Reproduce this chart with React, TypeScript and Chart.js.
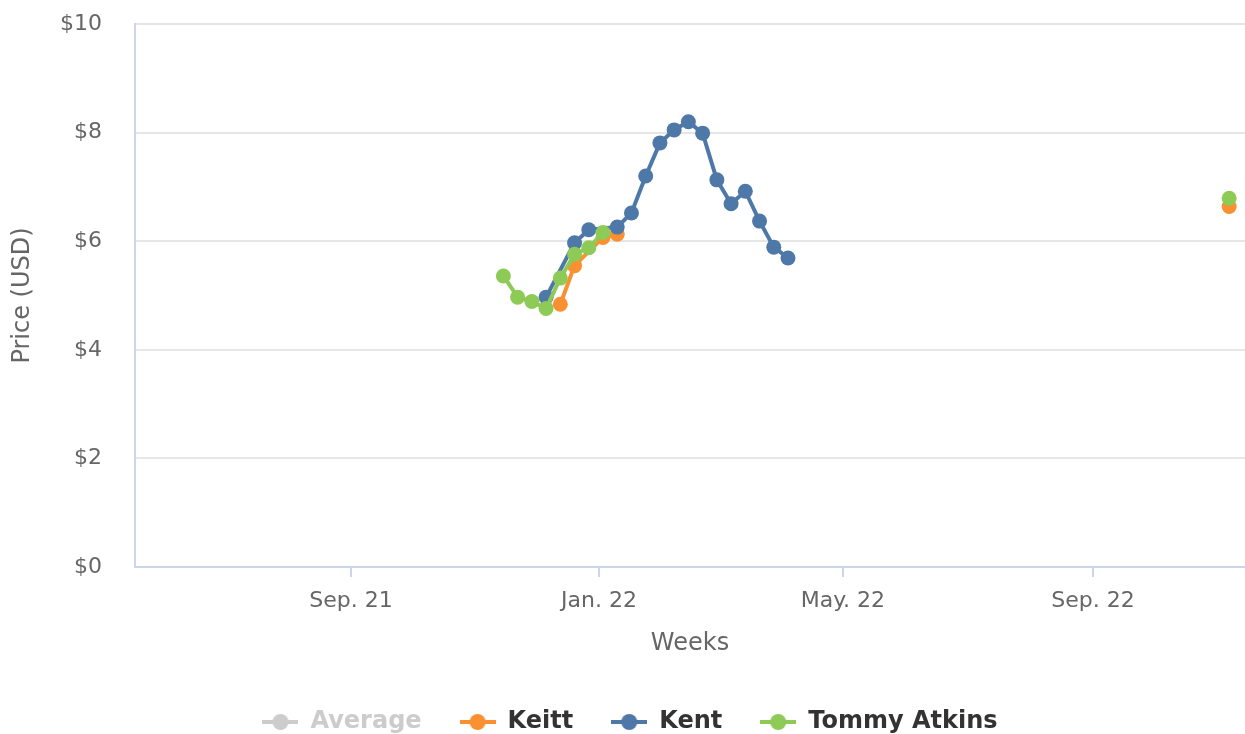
import React, { useEffect, useRef } from 'react';
import { Chart, registerables } from 'chart.js';

Chart.register(...registerables);

const FONT = "'DejaVu Sans', 'Open Sans', sans-serif";

const seriesNames = ['Average', 'Keitt', 'Kent', 'Tommy Atkins'];
const seriesColors = ['#cccccc', '#f99032', '#4e78a7', '#8dca56'];
const legendTextColors = ['#cccccc', '#333333', '#333333', '#333333'];

const averageWeeks: string[] = [];
const averagePrices: (number | null)[] = [];

const keittWeeks = ['2021-12-13', '2021-12-20', '2022-01-03', '2022-01-10', '2022-01-17', '2022-11-07'];
const keittPrices = [4.84, 5.55, 6.07, 6.13, null, 6.64];

const kentWeeks = [
  '2021-12-06', '2021-12-20', '2021-12-27', '2022-01-10', '2022-01-17', '2022-01-24',
  '2022-01-31', '2022-02-07', '2022-02-14', '2022-02-21', '2022-02-28', '2022-03-07',
  '2022-03-14', '2022-03-21', '2022-03-28', '2022-04-04',
];
const kentPrices = [4.97, 5.97, 6.21, 6.26, 6.52, 7.2, 7.81, 8.05, 8.2, 7.99, 7.13, 6.69, 6.92, 6.37, 5.89, 5.69];

const tommyWeeks = [
  '2021-11-15', '2021-11-22', '2021-11-29', '2021-12-06', '2021-12-13', '2021-12-20',
  '2021-12-27', '2022-01-03', '2022-01-10', '2022-11-07',
];
const tommyPrices = [5.36, 4.97, 4.89, 4.76, 5.32, 5.76, 5.88, 6.16, null, 6.79];

const monthTickDates = ['2021-09-01', '2022-01-01', '2022-05-01', '2022-09-01'];
const monthTickLabels = ['Sep. 21', 'Jan. 22', 'May. 22', 'Sep. 22'];
const xRangeDates = ['2021-05-17T19:00', '2022-11-14T19:00'];

const yTicks = [0, 2, 4, 6, 8, 10];

const EPOCH = Date.UTC(2022, 0, 1);
const dayOf = (s: string) =>
  (Date.parse(s.length > 10 ? s + ':00Z' : s + 'T00:00:00Z') - EPOCH) / 86400000;

const toPoints = (weeks: string[], prices: (number | null)[]) =>
  weeks.map((w, i) => ({ x: dayOf(w), y: prices[i] }));

function makeMarker(color: string): HTMLCanvasElement {
  const c = document.createElement('canvas');
  c.width = 36;
  c.height = 18;
  const ctx = c.getContext('2d')!;
  ctx.strokeStyle = color;
  ctx.lineWidth = 4;
  ctx.beginPath();
  ctx.moveTo(0, 9);
  ctx.lineTo(36, 9);
  ctx.stroke();
  ctx.fillStyle = color;
  ctx.beginPath();
  ctx.arc(18, 9, 8, 0, Math.PI * 2);
  ctx.fill();
  return c;
}

export default function App() {
  const ref = useRef<HTMLCanvasElement | null>(null);

  useEffect(() => {
    if (!ref.current) return;
    Chart.defaults.font.family = FONT;
    const markers = seriesColors.map(makeMarker);
    const seriesData = [
      toPoints(averageWeeks, averagePrices),
      toPoints(keittWeeks, keittPrices),
      toPoints(kentWeeks, kentPrices),
      toPoints(tommyWeeks, tommyPrices),
    ];
    const orders = [3, 2, 1, 0];

    const chart = new Chart(ref.current, {
      type: 'line',
      data: {
        datasets: seriesNames.map((name, i) => ({
          label: name,
          data: seriesData[i],
          borderColor: seriesColors[i],
          backgroundColor: seriesColors[i],
          pointBackgroundColor: seriesColors[i],
          pointBorderWidth: 0,
          pointRadius: 7.5,
          borderWidth: 4,
          order: orders[i],
          spanGaps: false,
          tension: 0,
        })),
      },
      options: {
        animation: false,
        responsive: true,
        maintainAspectRatio: false,
        events: [],
        layout: { autoPadding: false, padding: { top: 24, left: 15, right: 0, bottom: 0 } },
        plugins: {
          tooltip: { enabled: false },
          legend: {
            position: 'bottom',
            onClick: () => {},
            labels: {
              usePointStyle: true,
              pointStyleWidth: 36,
              boxHeight: 18,
              padding: 38,
              color: '#333333',
              font: { family: FONT, size: 24, weight: 'bold' },
              generateLabels: (ch: any) =>
                ch.data.datasets.map((ds: any, i: number) => ({
                  text: ds.label,
                  pointStyle: markers[i],
                  fillStyle: seriesColors[i],
                  strokeStyle: seriesColors[i],
                  lineWidth: 0,
                  hidden: false,
                  datasetIndex: i,
                  fontColor: legendTextColors[i],
                })),
            },
          },
        },
        scales: {
          x: {
            type: 'linear',
            min: dayOf(xRangeDates[0]),
            max: dayOf(xRangeDates[1]),
            afterBuildTicks: (s: any) => {
              s.ticks = monthTickDates.map((d) => ({ value: dayOf(d) }));
            },
            afterFit: (s: any) => {
              s.height = 105;
              s.paddingLeft = 0;
              s.paddingRight = 0;
            },
            ticks: {
              callback: (_v: any, i: number) => monthTickLabels[i],
              color: '#666666',
              font: { family: FONT, size: 22 },
              padding: 11,
              maxRotation: 0,
              autoSkip: false,
            },
            grid: {
              drawOnChartArea: false,
              drawTicks: true,
              tickLength: 10,
              color: '#ccd6eb',
              lineWidth: 2,
            },
            border: { color: '#ccd6eb', width: 2 },
            title: {
              display: true,
              text: 'Weeks',
              color: '#666666',
              font: { family: FONT, size: 24 },
              padding: { top: 0, bottom: 14 },
            },
          },
          y: {
            type: 'linear',
            min: 0,
            max: 10,
            afterBuildTicks: (s: any) => {
              s.ticks = yTicks.map((v) => ({ value: v }));
            },
            afterFit: (s: any) => {
              s.width = 120;
              s.paddingTop = 0;
              s.paddingBottom = 0;
            },
            ticks: {
              callback: (v: any) => '$' + v,
              color: '#666666',
              font: { family: FONT, size: 22 },
              padding: 33,
            },
            grid: { color: '#e6e6e6', lineWidth: 2, drawTicks: false },
            border: { color: '#ccd6eb', width: 2 },
            title: {
              display: true,
              text: 'Price (USD)',
              color: '#666666',
              font: { family: FONT, size: 24 },
              padding: { top: -7, bottom: 0 },
            },
          },
        },
      },
    });
    return () => chart.destroy();
  }, []);

  return (
    <div style={{ position: 'fixed', left: 0, top: 0, width: 1245, height: 744, background: '#ffffff' }}>
      <canvas ref={ref} />
    </div>
  );
}
